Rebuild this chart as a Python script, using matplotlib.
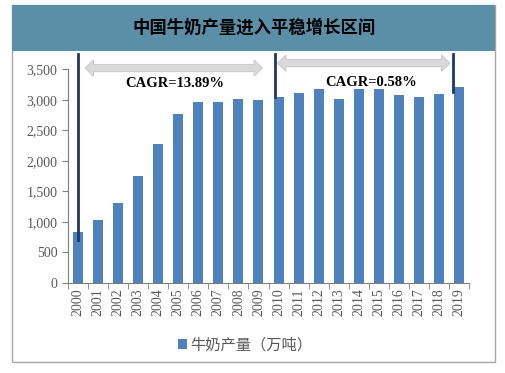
import matplotlib.pyplot as plt
import numpy as np
from matplotlib.patches import Polygon, Rectangle

plt.rcParams["font.family"] = ["Liberation Serif", "Noto Sans CJK SC"]

years = [str(y) for y in range(2000, 2020)]
milk = [839, 1031, 1309, 1756, 2269, 2765, 2956, 2956, 3010, 2999,
        3043, 3113, 3179, 3005, 3169, 3185, 3071, 3043, 3087, 3206]
title = "中国牛奶产量进入平稳增长区间"
legend_label = "牛奶产量（万吨）"
cagr_labels = ["CAGR=13.89%", "CAGR=0.58%"]

W, H = 505, 373
fig = plt.figure(figsize=(W / 100, H / 100), dpi=100)

# outer frame and title band
fig.patches.append(Rectangle((12 / W, 1 - 362 / H), 483 / W, 357 / H,
                             transform=fig.transFigure, fill=False,
                             edgecolor="#a6a6a6", linewidth=1.0))
fig.patches.append(Rectangle((12 / W, 1 - 51 / H), 483 / W, 46 / H,
                             transform=fig.transFigure, facecolor="#5b8fa8",
                             edgecolor="none"))
fig.text(254 / W, 1 - 28 / H, title, ha="center", va="center", fontsize=12.5,
         fontweight="bold", family=["Noto Sans CJK SC"], color="black")

ax = fig.add_axes([68 / W, 1 - 283 / H, 401 / W, 229 / H])
x = np.arange(len(years))
ax.bar(x, milk, width=0.5, color="#4f81bd", zorder=2, label=legend_label)

ax.set_xlim(-0.5, len(years) - 0.5)
ax.set_ylim(0, 3750)
ax.set_yticks(np.arange(0, 3501, 500))
ax.set_yticklabels([f"{v:,}" for v in range(0, 3501, 500)])
ax.spines["left"].set_bounds(0, 3500)
for s in ["top", "right"]:
    ax.spines[s].set_visible(False)
for s in ["left", "bottom"]:
    ax.spines[s].set_color("#808080")
ax.set_xticks(x)
ax.set_xticklabels(years, rotation=90)
ax.set_xticks(np.arange(-0.5, len(years), 1), minor=True)
ax.tick_params(axis="x", which="major", length=0, labelsize=10,
               labelcolor="#595959", pad=4)
ax.tick_params(axis="x", which="minor", length=4, color="#808080",
               direction="out")
ax.tick_params(axis="y", length=4, color="#808080", labelsize=10,
               labelcolor="#595959")

# markers for the two periods
ax.plot([0, 0], [700, 3750], color="#1f3864", lw=2, zorder=3, clip_on=False)
ax.plot([9.82, 9.82], [3043, 3750], color="#1f3864", lw=2, zorder=3,
        clip_on=False)
ax.plot([18.69, 18.69], [3130, 3750], color="#1f3864", lw=2, zorder=3,
        clip_on=False)


def double_arrow(x0, x1, yc, hl=0.42, body=60, head=135):
    pts = [(x0, yc), (x0 + hl, yc + head), (x0 + hl, yc + body),
           (x1 - hl, yc + body), (x1 - hl, yc + head), (x1, yc),
           (x1 - hl, yc - head), (x1 - hl, yc - body), (x0 + hl, yc - body),
           (x0 + hl, yc - head)]
    ax.add_patch(Polygon(pts, closed=True, facecolor="#d9d9d9",
                         edgecolor="#c4c4c4", lw=0.6, zorder=3, clip_on=False))


double_arrow(0.35, 9.2, 3520)
double_arrow(9.95, 18.55, 3600)

ax.text(4.8, 3270, cagr_labels[0], ha="center", va="center", fontsize=10.5,
        fontweight="bold", color="black", zorder=4)
ax.text(14.6, 3290, cagr_labels[1], ha="center", va="center", fontsize=10.5,
        fontweight="bold", color="black", zorder=4)

leg = fig.legend(loc="center", bbox_to_anchor=(245 / W, 1 - 345 / H),
                 frameon=False, handlelength=0.6, handleheight=0.6,
                 handletextpad=0.2, prop={"family": "Noto Sans CJK SC",
                                          "size": 11})
for t in leg.get_texts():
    t.set_color("#595959")

fig.savefig("out.png", dpi=100)
